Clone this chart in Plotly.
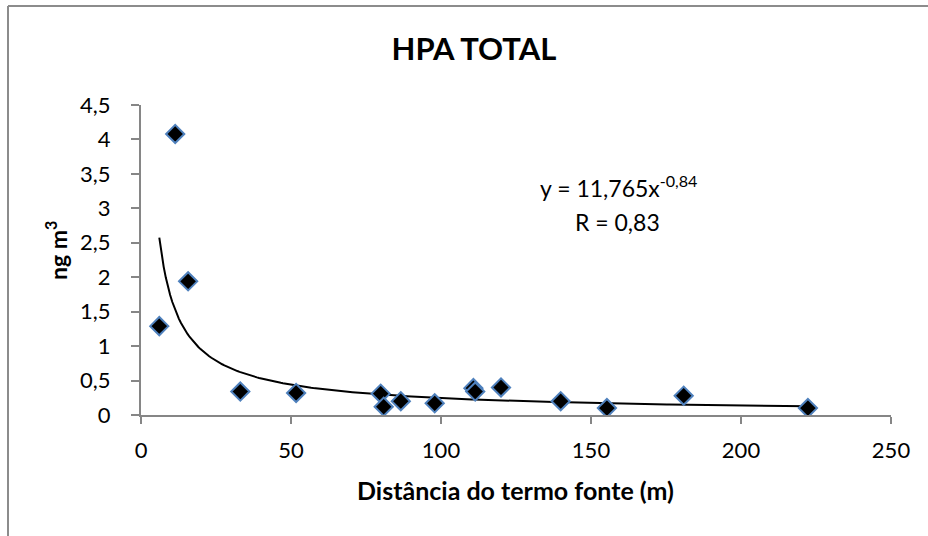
import numpy as np
import plotly.graph_objects as go

# Measured concentrations vs. distance from the source
distancia_m = [6.1, 11.4, 15.7, 33.1, 51.7, 79.9, 80.9, 86.6, 97.9, 110.8, 111.4,
               120.0, 139.9, 155.3, 180.9, 222.3]
hpa_total = [1.29, 4.08, 1.94, 0.34, 0.32, 0.31, 0.12, 0.20, 0.17, 0.39, 0.34,
             0.40, 0.20, 0.10, 0.28, 0.10]

# Power-law trend coefficients (y = a * x^b)
coef_a = 11.765
coef_b = -0.84

x_ticks = [0, 50, 100, 150, 200, 250]
x_tick_text = ["0", "50", "100", "150", "200", "250"]
y_ticks = [0, 0.5, 1, 1.5, 2, 2.5, 3, 3.5, 4, 4.5]
y_tick_text = ["0", "0,5", "1", "1,5", "2", "2,5", "3", "3,5", "4", "4,5"]

FONT = "Lato"
AXIS_GRAY = "#868686"
FRAME_GRAY = "#8c8c8c"

xs = np.linspace(min(distancia_m), max(distancia_m), 300)
trend = coef_a * xs ** coef_b

fig = go.Figure()
fig.add_trace(go.Scatter(
    x=xs, y=trend, mode="lines",
    line=dict(color="black", width=2),
    hoverinfo="skip", showlegend=False,
))
fig.add_trace(go.Scatter(
    x=distancia_m, y=hpa_total, mode="markers",
    marker=dict(symbol="diamond", size=14, color="black",
                line=dict(color="#4f81bd", width=2)),
    showlegend=False,
))

W, H = 928, 536
L, R, T, B = 141, 37, 105, 121
pw, ph = W - L - R, H - T - B


def px_x(p):
    return (p - L) / pw


def px_y(p):
    return (H - B - p) / ph


fig.update_layout(
    width=W, height=H,
    margin=dict(l=L, r=R, t=T, b=B, pad=0),
    paper_bgcolor="white", plot_bgcolor="white",
    font=dict(family=FONT, color="black"),
    title=dict(text="<b>HPA TOTAL</b>", x=474 / W, xanchor="center",
               y=1 - 49 / H, yanchor="middle", xref="container", yref="container",
               font=dict(size=31, family=FONT, color="black")),
    xaxis=dict(range=[0, 250], tickvals=x_ticks, ticktext=x_tick_text,
               showgrid=False, zeroline=False, showline=True,
               linecolor=AXIS_GRAY, linewidth=2,
               ticks="outside", ticklen=7, tickwidth=2, tickcolor=AXIS_GRAY,
               ticklabelstandoff=8,
               tickfont=dict(size=22, family=FONT, color="black")),
    yaxis=dict(range=[0, 4.5], tickvals=y_ticks, ticktext=y_tick_text,
               showgrid=False, zeroline=False, showline=True,
               linecolor=AXIS_GRAY, linewidth=2,
               ticks="outside", ticklen=8, tickwidth=2, tickcolor=AXIS_GRAY,
               ticklabelstandoff=16,
               tickfont=dict(size=22, family=FONT, color="black")),
    shapes=[
        # chart-area frame: top and left edges
        dict(type="line", xref="paper", yref="paper",
             x0=px_x(8), x1=px_x(W), y0=px_y(6), y1=px_y(6),
             line=dict(color=FRAME_GRAY, width=2), layer="below"),
        dict(type="line", xref="paper", yref="paper",
             x0=px_x(8), x1=px_x(8), y0=px_y(6), y1=px_y(H),
             line=dict(color=FRAME_GRAY, width=2), layer="below"),
    ],
    annotations=[
        dict(text="<b>ng m<sup>3</sup></b>", textangle=-90, xref="paper", yref="paper",
             x=px_x(56), y=px_y(251), xanchor="center", yanchor="middle",
             showarrow=False, font=dict(size=23, family=FONT, color="black")),
        dict(text="<b>Distância do termo fonte (m)</b>", xref="paper", yref="paper",
             x=px_x(515), y=px_y(490), xanchor="center", yanchor="middle",
             showarrow=False, font=dict(size=25, family=FONT, color="black")),
        dict(text="y = 11,765x<sup>-0,84</sup>", xref="paper", yref="paper",
             x=px_x(618), y=px_y(186), xanchor="center", yanchor="middle",
             showarrow=False, font=dict(size=23, family=FONT, color="black")),
        dict(text="R = 0,83", xref="paper", yref="paper",
             x=px_x(617), y=px_y(222), xanchor="center", yanchor="middle",
             showarrow=False, font=dict(size=23, family=FONT, color="black")),
    ],
)

fig.write_html(
    "out.html",
    post_script="document.documentElement.style.overflow='hidden';"
                "document.body.style.overflow='hidden';"
                "document.body.style.margin='0';",
)
